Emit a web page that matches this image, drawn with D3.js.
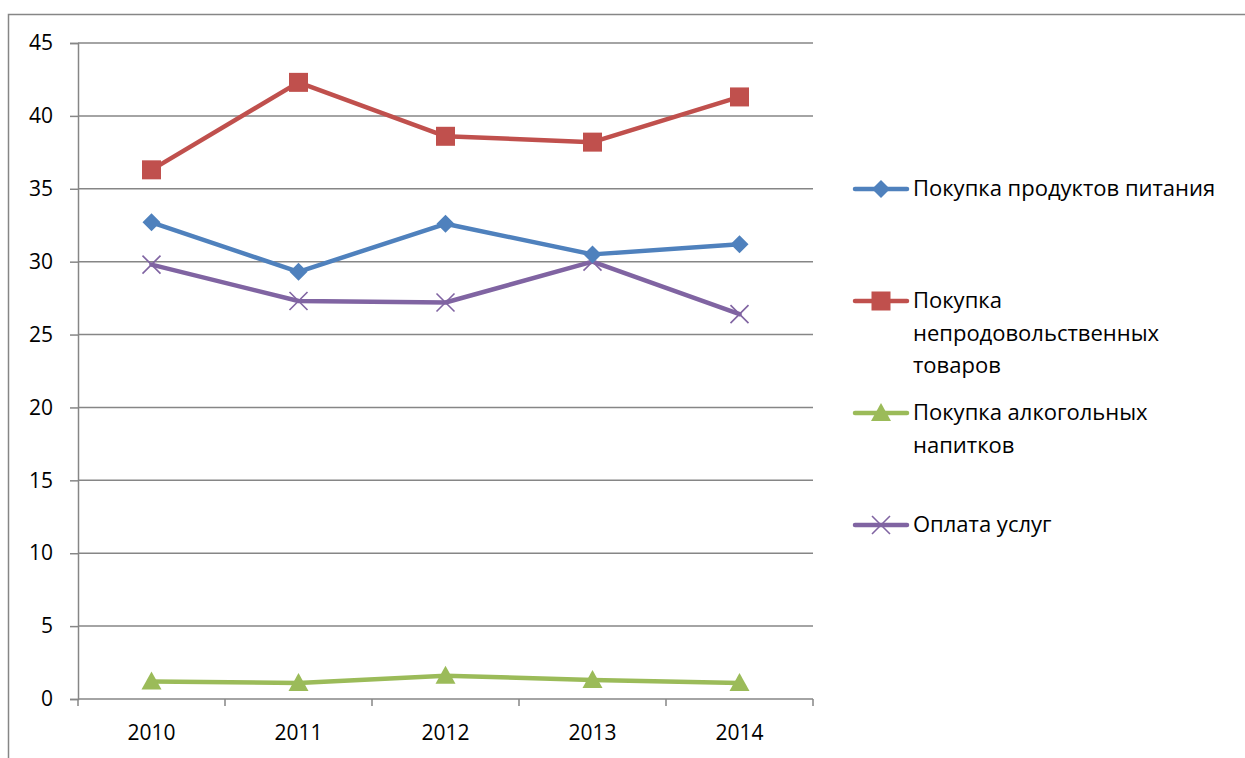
<!DOCTYPE html>
<html>
<head>
<meta charset="utf-8">
<script src="https://cdn.jsdelivr.net/npm/d3@7"></script>
<style>
  html, body { margin: 0; padding: 0; background: #fff; }
  svg { display: block; font-family: "Open Sans", "Noto Sans", sans-serif; }
</style>
</head>
<body>
<svg id="chart" width="1245" height="758"></svg>
<script>
// Years along the category axis
const years = ["2010", "2011", "2012", "2013", "2014"];

// Share of spending by purpose, %
const food      = [32.7, 29.3, 32.6, 30.5, 31.2];
const nonFood   = [36.3, 42.3, 38.6, 38.2, 41.3];
const alcohol   = [1.2, 1.1, 1.6, 1.3, 1.1];
const services  = [29.8, 27.3, 27.2, 30.0, 26.4];

const seriesNames = [
  "Покупка продуктов питания",
  "Покупка непродовольственных товаров",
  "Покупка алкогольных напитков",
  "Оплата услуг"
];
// Legend labels broken into lines
const legendLines = [
  ["Покупка продуктов питания"],
  ["Покупка", "непродовольственных", "товаров"],
  ["Покупка алкогольных", "напитков"],
  ["Оплата услуг"]
];
const yTicks = [0, 5, 10, 15, 20, 25, 30, 35, 40, 45];

const series = [
  { name: seriesNames[0], values: food,     color: "#4F81BD", marker: "diamond" },
  { name: seriesNames[1], values: nonFood,  color: "#C0504D", marker: "square" },
  { name: seriesNames[2], values: alcohol,  color: "#9BBB59", marker: "triangle" },
  { name: seriesNames[3], values: services, color: "#8064A2", marker: "cross" }
];

const svg = d3.select("#chart");
const gridColor = "#868686";
const axisFont = 21;
const legendFont = 22;

// Outer chart frame
svg.append("rect")
  .attr("x", 8.5).attr("y", 14.5)
  .attr("width", 1260).attr("height", 760)
  .attr("fill", "none").attr("stroke", gridColor).attr("stroke-width", 1.5);

const plot = { left: 78, right: 813, top: 43, bottom: 699 };

const x = d3.scaleBand().domain(years).range([plot.left, plot.right]);
const y = d3.scaleLinear().domain([0, 45]).range([plot.bottom, plot.top]);

// Value axis with left ticks
const yAxis = d3.axisLeft(y).tickValues(yTicks).tickSize(8).tickPadding(17);
const gy = svg.append("g").attr("transform", `translate(${plot.left},0)`).call(yAxis);
gy.select(".domain").attr("stroke", gridColor).attr("stroke-width", 1.5);
gy.selectAll(".tick line").attr("stroke", gridColor).attr("stroke-width", 1.5);
gy.selectAll(".tick text").attr("font-size", axisFont).attr("fill", "#000")
  .attr("font-family", "Open Sans, Noto Sans, sans-serif");

// Horizontal gridlines
svg.append("g").selectAll("line.grid")
  .data(yTicks.filter(d => d > 0))
  .join("line")
  .attr("x1", plot.left).attr("x2", plot.right)
  .attr("y1", d => y(d)).attr("y2", d => y(d))
  .attr("stroke", gridColor).attr("stroke-width", 1.5);

// Category axis: ticks on band boundaries
const bounds = years.map(d => x(d)).concat([plot.right]);
const gx = svg.append("g");
gx.append("line")
  .attr("x1", plot.left).attr("x2", plot.right)
  .attr("y1", y(0)).attr("y2", y(0))
  .attr("stroke", gridColor).attr("stroke-width", 1.5);
gx.selectAll("line.tick").data(bounds).join("line")
  .attr("x1", d => d).attr("x2", d => d)
  .attr("y1", y(0)).attr("y2", y(0) + 7)
  .attr("stroke", gridColor).attr("stroke-width", 1.5);
gx.selectAll("text").data(years).join("text")
  .attr("x", d => x(d) + x.bandwidth() / 2)
  .attr("y", y(0) + 41)
  .attr("text-anchor", "middle")
  .attr("font-size", axisFont)
  .attr("fill", "#000")
  .text(d => d);

const cx = d => x(d) + x.bandwidth() / 2;

function drawMarker(g, type, color, px, py) {
  if (type === "diamond") {
    g.append("path")
      .attr("d", `M${px},${py - 9}L${px + 9},${py}L${px},${py + 9}L${px - 9},${py}Z`)
      .attr("fill", color);
  } else if (type === "square") {
    g.append("rect")
      .attr("x", px - 9.5).attr("y", py - 9.5)
      .attr("width", 19).attr("height", 19)
      .attr("fill", color);
  } else if (type === "triangle") {
    g.append("path")
      .attr("d", `M${px},${py - 10}L${px + 10},${py + 8}L${px - 10},${py + 8}Z`)
      .attr("fill", color);
  } else if (type === "cross") {
    g.append("path")
      .attr("d", `M${px - 9},${py - 9}L${px + 9},${py + 9}M${px + 9},${py - 9}L${px - 9},${py + 9}`)
      .attr("stroke", color).attr("stroke-width", 1.6).attr("fill", "none");
  }
}

const line = d3.line().x((d, i) => cx(years[i])).y(d => y(d));

// Draw order: alcohol, services, non-food, food (food on top)
[series[2], series[3], series[1], series[0]].forEach(s => {
  const g = svg.append("g");
  g.append("path")
    .attr("d", line(s.values))
    .attr("fill", "none")
    .attr("stroke", s.color)
    .attr("stroke-width", 4.5)
    .attr("stroke-linejoin", "round")
    .attr("stroke-linecap", "round");
  s.values.forEach((v, i) => drawMarker(g, s.marker, s.color, cx(years[i]), y(v)));
});

// Legend
const legendTops = [189, 301, 413, 525];
const lineHeight = 32.5;
series.forEach((s, i) => {
  const ly = legendTops[i];
  const g = svg.append("g");
  g.append("line")
    .attr("x1", 855).attr("x2", 907)
    .attr("y1", ly).attr("y2", ly)
    .attr("stroke", s.color).attr("stroke-width", 4.5)
    .attr("stroke-linecap", "round");
  drawMarker(g, s.marker, s.color, 881, ly);
  legendLines[i].forEach((t, j) => {
    g.append("text")
      .attr("x", 913)
      .attr("y", ly + j * lineHeight + 7)
      .attr("font-size", legendFont)
      .attr("fill", "#000")
      .text(t);
  });
});
</script>
</body>
</html>
